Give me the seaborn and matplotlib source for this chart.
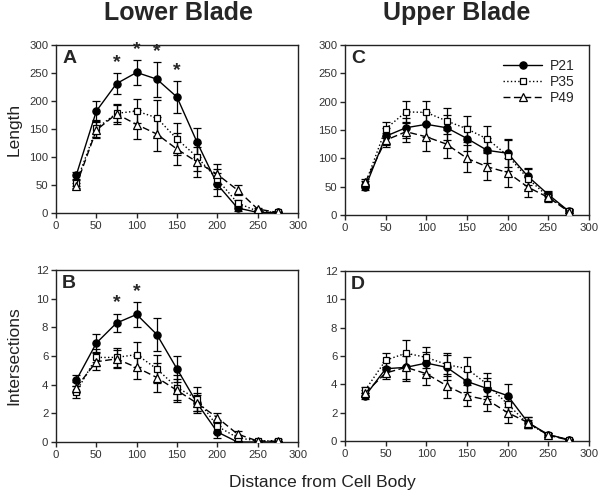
import numpy as np
import pandas as pd
import matplotlib
matplotlib.use("Agg")
import matplotlib.pyplot as plt
import seaborn as sns

sns.set_theme(style="ticks")
plt.rcParams['font.family'] = ['Liberation Sans', 'DejaVu Sans']

distance = [25, 50, 75, 100, 125, 150, 175, 200, 225, 250, 275]
groups = ["P21", "P35", "P49"]

# Panel A: Lower blade length
len_low = {
    "P21": [67, 182, 231, 251, 239, 207, 126, 51, 9, 1, 1],
    "P35": [54, 151, 178, 182, 170, 132, 100, 60, 18, 3, 1],
    "P49": [49, 148, 177, 158, 141, 114, 91, 69, 41, 7, 1],
}
len_low_err = {
    "P21": [6, 18, 19, 22, 31, 29, 26, 20, 5, 1, 1],
    "P35": [5, 15, 15, 21, 32, 29, 25, 18, 6, 2, 1],
    "P49": [5, 14, 18, 26, 30, 29, 26, 18, 9, 2, 1],
}
# Panel C: Upper blade length
len_up = {
    "P21": [49, 139, 154, 160, 154, 135, 114, 109, 68, 36, 7],
    "P35": [55, 152, 182, 181, 166, 152, 134, 105, 64, 32, 7],
    "P49": [58, 132, 147, 138, 125, 100, 85, 75, 49, 31, 6],
}
len_up_err = {
    "P21": [5, 15, 18, 22, 22, 22, 22, 25, 15, 7, 3],
    "P35": [5, 13, 19, 21, 23, 23, 23, 28, 18, 8, 3],
    "P49": [5, 12, 18, 25, 25, 24, 24, 25, 18, 8, 3],
}
# Panel B: Lower blade intersections
int_low = {
    "P21": [4.3, 6.9, 8.3, 8.9, 7.5, 5.1, 2.7, 0.7, 0.0, 0.0, 0.0],
    "P35": [3.5, 5.9, 5.9, 6.1, 5.1, 3.8, 3.0, 1.1, 0.3, 0.07, 0.1],
    "P49": [3.8, 5.6, 5.8, 5.2, 4.5, 3.6, 2.7, 1.7, 0.55, 0.07, 0.05],
}
int_low_err = {
    "P21": [0.4, 0.64, 0.66, 0.88, 1.14, 0.9, 0.55, 0.4, 0.1, 0.05, 0.05],
    "P35": [0.4, 0.6, 0.65, 0.9, 1.0, 0.85, 0.85, 0.45, 0.2, 0.05, 0.1],
    "P49": [0.4, 0.6, 0.65, 0.8, 1.0, 0.8, 0.7, 0.35, 0.2, 0.05, 0.05],
}
# Panel D: Upper blade intersections
int_up = {
    "P21": [3.2, 5.1, 5.2, 5.5, 5.2, 4.2, 3.7, 3.2, 1.3, 0.45, 0.1],
    "P35": [3.6, 5.7, 6.2, 5.9, 5.4, 5.1, 4.0, 2.6, 1.2, 0.45, 0.07],
    "P49": [3.4, 4.8, 5.2, 4.75, 3.9, 3.2, 2.9, 2.0, 1.3, 0.4, 0.07],
}
int_up_err = {
    "P21": [0.2, 0.5, 0.8, 0.8, 0.9, 0.75, 0.75, 0.8, 0.4, 0.15, 0.05],
    "P35": [0.2, 0.5, 0.9, 0.75, 0.8, 0.8, 0.8, 0.5, 0.3, 0.15, 0.05],
    "P49": [0.2, 0.45, 0.95, 0.8, 0.85, 0.75, 0.8, 0.7, 0.4, 0.15, 0.05],
}

star_low_len = [75, 100, 125, 150]
star_low_int = [75, 100]

styles = {
    "P21": dict(ls="-", marker="o", mfc="black", ms=5.2),
    "P35": dict(ls=":", marker="s", mfc="white", ms=4.6),
    "P49": dict(ls=(0, (5, 2.5)), marker="^", mfc="white", ms=5.2),
}

W, H = 600, 497
fig = plt.figure(figsize=(W / 100, H / 100), dpi=100)


def add_ax(l, t, r, b):
    return fig.add_axes([l / W, 1 - b / H, (r - l) / W, (b - t) / H])


axA = add_ax(56, 45, 298, 213)
axC = add_ax(345, 45, 589, 215)
axB = add_ax(56, 270, 298, 442)
axD = add_ax(345, 271, 589, 441)


def draw(ax, vals, errs, ymax, ystep, letter, stars=None, legend=False):
    rows = []
    for g in groups:
        for d, v in zip(distance, vals[g]):
            rows.append({"Distance": d, "Value": v, "Group": g})
    df = pd.DataFrame(rows)
    for g in groups:
        sub = df[df["Group"] == g]
        ax.errorbar(sub["Distance"], sub["Value"], yerr=errs[g], fmt="none",
                    ecolor="black", elinewidth=0.9, capsize=2.6, capthick=0.9,
                    zorder=2)
    for g in groups:
        st = styles[g]
        sub = df[df["Group"] == g]
        sns.lineplot(data=sub, x="Distance", y="Value", ax=ax, color="black",
                     linestyle=st["ls"], marker=st["marker"], markersize=st["ms"],
                     markerfacecolor=st["mfc"], markeredgecolor="black",
                     markeredgewidth=0.9, linewidth=1.0, label=g,
                     legend=False, zorder=3, errorbar=None)
    if stars:
        for s in stars:
            i = distance.index(s)
            top = vals["P21"][i] + errs["P21"][i]
            ax.text(s, top + ymax * 0.012, "*", ha="center", va="bottom",
                    fontsize=14, fontweight="bold")
    ax.set_xlim(0, 300)
    ax.set_ylim(0, ymax)
    ax.set_xticks(range(0, 301, 50))
    ax.set_yticks(np.arange(0, ymax + 0.1, ystep))
    ax.set_xlabel("")
    ax.set_ylabel("")
    ax.tick_params(labelsize=8.2, labelcolor="#333333", length=3.5,
                   width=1.0, direction="out", pad=2)
    for sp in ax.spines.values():
        sp.set_visible(True)
        sp.set_linewidth(1.0)
        sp.set_color("#222222")
    ax.text(0.025, 0.97, letter, transform=ax.transAxes, ha="left", va="top",
            fontsize=14, fontweight="bold")
    if legend:
        ax.legend(loc="upper right", frameon=False, fontsize=10,
                  handlelength=2.8, handletextpad=0.6, labelspacing=0.15,
                  borderaxespad=0.6)


draw(axA, len_low, len_low_err, 300, 50, "A", stars=star_low_len)
draw(axC, len_up, len_up_err, 300, 50, "C", legend=True)
draw(axB, int_low, int_low_err, 12, 2, "B", stars=star_low_int)
draw(axD, int_up, int_up_err, 12, 2, "D")

fig.text(178 / W, 1 - 13 / H, "Lower Blade", ha="center", va="center",
         fontsize=18, fontweight="bold")
fig.text(457 / W, 1 - 13 / H, "Upper Blade", ha="center", va="center",
         fontsize=18, fontweight="bold")
fig.text(14 / W, 1 - 129 / H, "Length", rotation=90, ha="center",
         va="center", fontsize=12.5, color="#222222")
fig.text(14 / W, 1 - 356 / H, "Intersections", rotation=90, ha="center",
         va="center", fontsize=12.5, color="#222222")
fig.text(322 / W, 1 - 482 / H, "Distance from Cell Body", ha="center",
         va="center", fontsize=12.5, color="#222222")

fig.savefig("out.png", dpi=100, facecolor="white")
